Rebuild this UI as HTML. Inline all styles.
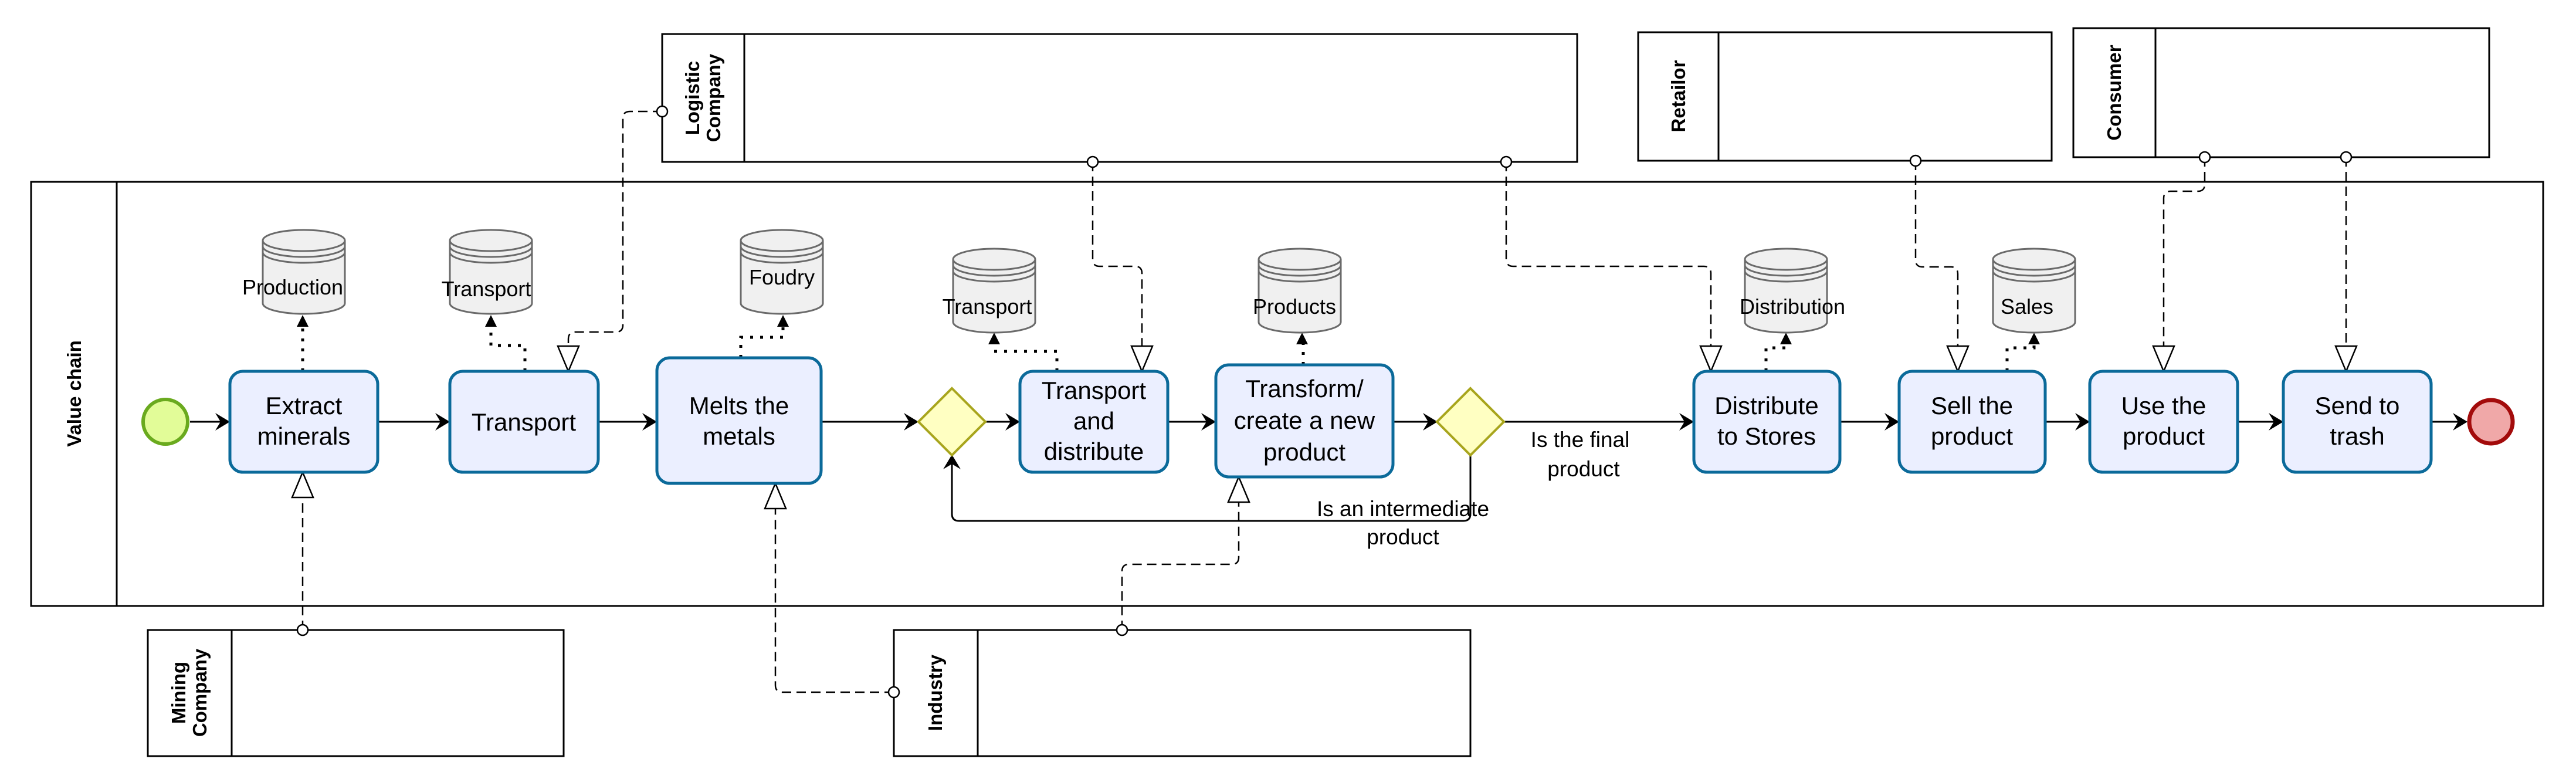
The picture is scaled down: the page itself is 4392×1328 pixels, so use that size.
<!DOCTYPE html>
<html><head><meta charset="utf-8"><style>
html,body{margin:0;padding:0;background:#fff}
svg{display:block}
text{font-family:"Liberation Sans",sans-serif;fill:#000}
.t{font-size:42px;text-anchor:middle}
.s{font-size:36px;text-anchor:middle}
.g{font-size:37px;text-anchor:middle}
.p{font-size:33px;font-weight:bold;text-anchor:middle}
.pool{fill:#fff;stroke:#000;stroke-width:3}
.task{fill:#ebefff;stroke:#0b6a9a;stroke-width:5}
.seq{fill:none;stroke:#000;stroke-width:3}
.msg{fill:none;stroke:#000;stroke-width:2.5;stroke-dasharray:16 9}
.dot{fill:none;stroke:#000;stroke-width:5;stroke-dasharray:5 12}
.cyl{fill:#f0f0f0;stroke:#6a6a6a;stroke-width:3}
.ring{fill:none;stroke:#6a6a6a;stroke-width:3}
.gw{fill:#ffffc2;stroke:#a8a51d;stroke-width:4}
.oc{fill:#fff;stroke:#000;stroke-width:2.5}
.tri{fill:#fff;stroke:#000;stroke-width:2.5}
</style></head><body>
<svg width="4392" height="1328" viewBox="0 0 4392 1328" xmlns="http://www.w3.org/2000/svg">
<rect class="pool" x="53" y="310" width="4283" height="723"/>
<line x1="199" y1="310" x2="199" y2="1033" stroke="#000" stroke-width="3"/>
<text class="p" transform="translate(138,671) rotate(-90)">Value chain</text>

<rect class="pool" x="1129" y="58" width="1560" height="218"/>
<line x1="1269" y1="58" x2="1269" y2="276" stroke="#000" stroke-width="3"/>
<text class="p" transform="translate(1198,167) rotate(-90)"><tspan x="0" dy="-6">Logistic</tspan><tspan x="0" dy="36">Company</tspan></text>

<rect class="pool" x="2793" y="55" width="705" height="219"/>
<line x1="2930" y1="55" x2="2930" y2="274" stroke="#000" stroke-width="3"/>
<text class="p" transform="translate(2873,164) rotate(-90)">Retailor</text>

<rect class="pool" x="3535" y="48" width="709" height="220"/>
<line x1="3675" y1="48" x2="3675" y2="268" stroke="#000" stroke-width="3"/>
<text class="p" transform="translate(3616,158) rotate(-90)">Consumer</text>

<rect class="pool" x="252" y="1074" width="709" height="215"/>
<line x1="395" y1="1074" x2="395" y2="1289" stroke="#000" stroke-width="3"/>
<text class="p" transform="translate(322,1181) rotate(-90)"><tspan x="0" dy="-6">Mining</tspan><tspan x="0" dy="36">Company</tspan></text>

<rect class="pool" x="1524" y="1074" width="983" height="215"/>
<line x1="1667" y1="1074" x2="1667" y2="1289" stroke="#000" stroke-width="3"/>
<text class="p" transform="translate(1606,1181) rotate(-90)">Industry</text>

<g class="seq">
<line x1="324" y1="719" x2="380" y2="719"/>
<line x1="644" y1="719" x2="755" y2="719"/>
<line x1="1020" y1="719" x2="1108" y2="719"/>
<line x1="1400" y1="719" x2="1554" y2="719"/>
<line x1="1680" y1="719" x2="1727" y2="719"/>
<line x1="1991" y1="719" x2="2061" y2="719"/>
<line x1="2375" y1="719" x2="2439" y2="719"/>
<line x1="2563" y1="719" x2="2876" y2="719"/>
<line x1="3137" y1="719" x2="3226" y2="719"/>
<line x1="3487" y1="719" x2="3551" y2="719"/>
<line x1="3815" y1="719" x2="3881" y2="719"/>
<line x1="4145" y1="719" x2="4195" y2="719"/>
<path d="M2507 775 V876 Q2507 888 2495 888 H1635 Q1623 888 1623 876 V790"/>
</g>
<g fill="#000">
<polygon points="392,719 367,704 376,719 367,734"/>
<polygon points="767,719 742,704 751,719 742,734"/>
<polygon points="1120,719 1095,704 1104,719 1095,734"/>
<polygon points="1566,719 1541,704 1550,719 1541,734"/>
<polygon points="1739,719 1714,704 1723,719 1714,734"/>
<polygon points="2073,719 2048,704 2057,719 2048,734"/>
<polygon points="2451,719 2426,704 2435,719 2426,734"/>
<polygon points="2888,719 2863,704 2872,719 2863,734"/>
<polygon points="3238,719 3213,704 3222,719 3213,734"/>
<polygon points="3563,719 3538,704 3547,719 3538,734"/>
<polygon points="3893,719 3868,704 3877,719 3868,734"/>
<polygon points="4207,719 4182,704 4191,719 4182,734"/>
<polygon points="1623,775 1608,800 1623,791 1638,800"/>
</g>
<text class="g" x="2694" y="762">Is the final</text>
<text class="g" x="2700" y="812">product</text>
<text class="g" x="2392" y="880">Is an intermediate</text>
<text class="g" x="2392" y="928">product</text>

<g class="msg">
<path d="M1129 190 H1074 Q1062 190 1062 202 V554 Q1062 566 1050 566 H981 Q969 566 969 578 V590"/>
<path d="M1863 276 V442 Q1863 454 1875 454 H1935 Q1947 454 1947 466 V590"/>
<path d="M2568 276 V442 Q2568 454 2580 454 H2905 Q2917 454 2917 466 V590"/>
<path d="M3266 274 V443 Q3266 455 3278 455 H3326 Q3338 455 3338 467 V590"/>
<path d="M3759 268 V314 Q3759 326 3747 326 H3701 Q3689 326 3689 338 V590"/>
<path d="M4000 268 V590"/>
<path d="M516 1074 V848"/>
<path d="M1524 1180 H1334 Q1322 1180 1322 1168 V867"/>
<path d="M1913 1074 V974 Q1913 962 1925 962 H2100 Q2112 962 2112 950 V856"/>
</g>
<g class="tri">
<polygon points="969,633 951,590 987,590"/>
<polygon points="1947,633 1929,590 1965,590"/>
<polygon points="2917,633 2899,590 2935,590"/>
<polygon points="3338,633 3320,590 3356,590"/>
<polygon points="3689,633 3671,590 3707,590"/>
<polygon points="4000,633 3982,590 4018,590"/>
<polygon points="516,805 498,848 534,848"/>
<polygon points="1322,824 1304,867 1340,867"/>
<polygon points="2112,813 2094,856 2130,856"/>
</g>
<g class="oc">
<circle cx="1129" cy="190" r="9"/>
<circle cx="1863" cy="276" r="9"/>
<circle cx="2568" cy="276" r="9"/>
<circle cx="3266" cy="274" r="9"/>
<circle cx="3759" cy="268" r="9"/>
<circle cx="4000" cy="268" r="9"/>
<circle cx="516" cy="1074" r="9"/>
<circle cx="1524" cy="1180" r="9"/>
<circle cx="1913" cy="1074" r="9"/>
</g>

<g class="dot">
<path d="M516 633 V555"/>
<path d="M895 633 V589 H837 V555"/>
<path d="M1263 610 V575 H1335 V555"/>
<path d="M1802 633 V599 H1695 V585"/>
<path d="M2222 622 V585"/>
<path d="M3011 633 V593 H3045 V585"/>
<path d="M3422 633 V593 H3468 V585"/>
</g>
<g fill="#000">
<polygon points="516,537 506,557 526,557"/>
<polygon points="837,537 827,557 847,557"/>
<polygon points="1335,537 1325,557 1345,557"/>
<polygon points="1695,567 1685,587 1705,587"/>
<polygon points="2220,567 2210,587 2230,587"/>
<polygon points="3045,567 3035,587 3055,587"/>
<polygon points="3468,567 3458,587 3478,587"/>
</g>

<g>
<g transform="translate(448,392)"><path class="cyl" d="M0 18 A70 18 0 0 1 140 18 V125 A70 18 0 0 1 0 125 Z"/><path class="ring" d="M0 18 A70 18 0 0 0 140 18 M0 28 A70 18 0 0 0 140 28 M0 38 A70 18 0 0 0 140 38"/></g>
<g transform="translate(767,392)"><path class="cyl" d="M0 18 A70 18 0 0 1 140 18 V125 A70 18 0 0 1 0 125 Z"/><path class="ring" d="M0 18 A70 18 0 0 0 140 18 M0 28 A70 18 0 0 0 140 28 M0 38 A70 18 0 0 0 140 38"/></g>
<g transform="translate(1263,392)"><path class="cyl" d="M0 18 A70 18 0 0 1 140 18 V125 A70 18 0 0 1 0 125 Z"/><path class="ring" d="M0 18 A70 18 0 0 0 140 18 M0 28 A70 18 0 0 0 140 28 M0 38 A70 18 0 0 0 140 38"/></g>
<g transform="translate(1625,424)"><path class="cyl" d="M0 18 A70 18 0 0 1 140 18 V125 A70 18 0 0 1 0 125 Z"/><path class="ring" d="M0 18 A70 18 0 0 0 140 18 M0 28 A70 18 0 0 0 140 28 M0 38 A70 18 0 0 0 140 38"/></g>
<g transform="translate(2146,424)"><path class="cyl" d="M0 18 A70 18 0 0 1 140 18 V125 A70 18 0 0 1 0 125 Z"/><path class="ring" d="M0 18 A70 18 0 0 0 140 18 M0 28 A70 18 0 0 0 140 28 M0 38 A70 18 0 0 0 140 38"/></g>
<g transform="translate(2975,424)"><path class="cyl" d="M0 18 A70 18 0 0 1 140 18 V125 A70 18 0 0 1 0 125 Z"/><path class="ring" d="M0 18 A70 18 0 0 0 140 18 M0 28 A70 18 0 0 0 140 28 M0 38 A70 18 0 0 0 140 38"/></g>
<g transform="translate(3398,424)"><path class="cyl" d="M0 18 A70 18 0 0 1 140 18 V125 A70 18 0 0 1 0 125 Z"/><path class="ring" d="M0 18 A70 18 0 0 0 140 18 M0 28 A70 18 0 0 0 140 28 M0 38 A70 18 0 0 0 140 38"/></g>
</g>
<text class="s" x="499" y="502">Production</text>
<text class="s" x="829" y="505">Transport</text>
<text class="s" x="1333" y="485">Foudry</text>
<text class="s" x="1683" y="535">Transport</text>
<text class="s" x="2207" y="535">Products</text>
<text class="s" x="3056" y="535">Distribution</text>
<text class="s" x="3456" y="535">Sales</text>

<circle cx="282" cy="719" r="38" fill="#e2fc98" stroke="#6aaa1e" stroke-width="6"/>
<circle cx="4247" cy="719" r="37" fill="#f0a8a8" stroke="#a30b0b" stroke-width="7"/>

<polygon class="gw" points="1623,662 1680,719 1623,776 1566,719"/>
<polygon class="gw" points="2507,662 2564,719 2507,776 2450,719"/>

<rect class="task" x="392" y="633" width="252" height="172" rx="22"/>
<text class="t" x="518" y="706">Extract</text><text class="t" x="518" y="758">minerals</text>
<rect class="task" x="767" y="633" width="253" height="172" rx="22"/>
<text class="t" x="893" y="734">Transport</text>
<rect class="task" x="1120" y="610" width="280" height="214" rx="22"/>
<text class="t" x="1260" y="706">Melts the</text><text class="t" x="1260" y="758">metals</text>
<rect class="task" x="1739" y="633" width="252" height="172" rx="22"/>
<text class="t" x="1865" y="680">Transport</text><text class="t" x="1865" y="732">and</text><text class="t" x="1865" y="784">distribute</text>
<rect class="task" x="2073" y="622" width="302" height="191" rx="22"/>
<text class="t" x="2224" y="677">Transform/</text><text class="t" x="2224" y="731">create a new</text><text class="t" x="2224" y="785">product</text>
<rect class="task" x="2888" y="633" width="249" height="172" rx="22"/>
<text class="t" x="3012" y="706">Distribute</text><text class="t" x="3012" y="758">to Stores</text>
<rect class="task" x="3238" y="633" width="249" height="172" rx="22"/>
<text class="t" x="3362" y="706">Sell the</text><text class="t" x="3362" y="758">product</text>
<rect class="task" x="3563" y="633" width="252" height="172" rx="22"/>
<text class="t" x="3689" y="706">Use the</text><text class="t" x="3689" y="758">product</text>
<rect class="task" x="3893" y="633" width="252" height="172" rx="22"/>
<text class="t" x="4019" y="706">Send to</text><text class="t" x="4019" y="758">trash</text>
</svg>
</body></html>
